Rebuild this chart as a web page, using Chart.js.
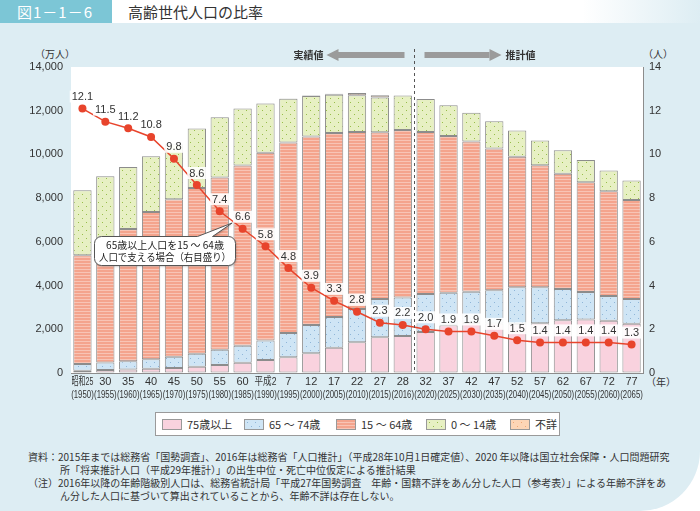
<!DOCTYPE html>
<html lang="ja">
<head>
<meta charset="utf-8">
<title>高齢世代人口の比率</title>
<script src="https://cdn.jsdelivr.net/npm/chart.js@4.4.1/dist/chart.umd.min.js"></script>
<style>
  html, body { margin: 0; padding: 0; }
  body {
    width: 700px; height: 511px; position: relative; overflow: hidden;
    background: #fff; color: #333;
    font-family: "Noto Sans CJK JP", sans-serif;
  }
  #panel {
    position: absolute; left: 0; top: 23px; width: 700px; height: 488px;
    background: #ddedf3; border-bottom-right-radius: 60px;
  }
  #hdr {
    position: absolute; left: 112px; top: 0; width: 588px; height: 23px;
    background: linear-gradient(to right, #fff 0%, #fff 80%, #ddedf3 100%);
  }
  #fig-no {
    position: absolute; left: 0; top: 0; width: 112px; height: 23px;
    background: #7cc6d6; color: #fff; font-size: 15px; line-height: 23px;
    text-indent: 17px; letter-spacing: 1px;
  }
  #title {
    position: absolute; left: 128px; top: 0; height: 23px; line-height: 24px;
    font-size: 15px; color: #333;
  }
  #chart { position: absolute; left: 0; top: 0; }
  .unit { position: absolute; font-size: 10px; color: #333; }
  #legend {
    position: absolute; left: 155px; top: 412px; width: 405px; height: 24px;
    box-sizing: border-box; background: #fff; border: 1px solid #9a9a9a;
  }
  .item { position: absolute; top: 0; height: 22px; display: flex; align-items: center; font-size: 11px; white-space: nowrap; }
  .item canvas { border: 1px solid #999; margin-right: 5px; }
  .note { position: absolute; font-size: 10px; white-space: nowrap; color: #333; }
</style>
</head>
<body>
<div id="panel"></div>
<div id="hdr"></div>
<div id="fig-no">図1－1－6</div>
<div id="title">高齢世代人口の比率</div>

<div class="unit" style="left:35px; top:46px;">（万人）</div>
<div class="unit" style="left:643px; top:46px;">（人）</div>
<div class="unit" style="left:646px; top:374px;">（年）</div>

<canvas id="chart" width="700" height="405"></canvas>

<div id="legend"></div>

<div class="note" style="left:28px; top:449px;">資料：2015年までは総務省「国勢調査」、2016年は総務省「人口推計」（平成28年10月1日確定値）、2020 年以降は国立社会保障・人口問題研究</div>
<div class="note" style="left:60px; top:462px;">所「将来推計人口（平成29年推計）」の出生中位・死亡中位仮定による推計結果</div>
<div class="note" style="left:28px; top:475px;">（注）2016年以降の年齢階級別人口は、総務省統計局「平成27年国勢調査　年齢・国籍不詳をあん分した人口（参考表）」による年齢不詳をあ</div>
<div class="note" style="left:60px; top:488px;">ん分した人口に基づいて算出されていることから、年齢不詳は存在しない。</div>

<script>
// 元号 / 西暦 の2段ラベル
const eraLabels = ["昭和25", "30", "35", "40", "45", "50", "55", "60", "平成2", "7", "12", "17", "22", "27", "28",
  "32", "37", "42", "47", "52", "57", "62", "67", "72", "77"];
const yearLabels = ["(1950)", "(1955)", "(1960)", "(1965)", "(1970)", "(1975)", "(1980)", "(1985)", "(1990)", "(1995)",
  "(2000)", "(2005)", "(2010)", "(2015)", "(2016)", "(2020)", "(2025)", "(2030)", "(2035)", "(2040)",
  "(2045)", "(2050)", "(2055)", "(2060)", "(2065)"];

// 人口（万人）
const age75over = [107, 138, 163, 190, 224, 284, 366, 471, 597, 717, 900, 1160, 1407, 1632, 1691,
  1872, 2180, 2288, 2260, 2239, 2277, 2417, 2446, 2387, 2248];
const age65to74 = [309, 338, 376, 434, 516, 602, 699, 776, 892, 1109, 1301, 1407, 1517, 1752, 1768,
  1747, 1497, 1428, 1522, 1681, 1643, 1424, 1258, 1133, 1133];
const age15to64 = [4966, 5517, 6047, 6744, 7212, 7581, 7883, 8251, 8590, 8716, 8622, 8409, 8103, 7629, 7656,
  7406, 7170, 6875, 6494, 5978, 5584, 5275, 5028, 4793, 4529];
const age0to14 = [2979, 3012, 2843, 2553, 2515, 2722, 2751, 2603, 2249, 2001, 1847, 1752, 1680, 1589, 1578,
  1507, 1407, 1321, 1246, 1194, 1138, 1077, 1012, 951, 898];
const ageUnknown = [null, null, null, null, null, null, null, null, 15, 13, 23, 49, 98, 106, null,
  null, null, null, null, null, null, null, null, null, null];

// 65歳以上1人を支える15～64歳の人数（右目盛り）
const supportRatio = [12.1, 11.5, 11.2, 10.8, 9.8, 8.6, 7.4, 6.6, 5.8, 4.8, 3.9, 3.3, 2.8, 2.3, 2.2,
  2.0, 1.9, 1.9, 1.7, 1.5, 1.4, 1.4, 1.4, 1.4, 1.3];

const leftTicks = { min: 0, max: 14000, step: 2000 };
const rightTicks = { min: 0, max: 14, step: 2 };
const firstEstimateIndex = 15;

function makePattern(size, bg, paint) {
  const c = document.createElement("canvas");
  c.width = size;
  c.height = size;
  const g = c.getContext("2d");
  g.fillStyle = bg;
  g.fillRect(0, 0, size, size);
  paint(g);
  return document.getElementById("chart").getContext("2d").createPattern(c, "repeat");
}

function dots(color) {
  return (g) => {
    g.fillStyle = color;
    g.fillRect(2, 2, 1, 1);
    g.fillRect(6, 6, 1, 1);
  };
}

const fills = {
  a75: makePattern(8, "#f9d2de", () => {}),
  a65: makePattern(8, "#cfe5f5", dots("#8fb6d8")),
  a15: makePattern(3, "#f4a48d", (g) => { g.fillStyle = "#f8c4b5"; g.fillRect(0, 2, 3, 1); }),
  a0: makePattern(8, "#e7f0c3", dots("#98bd4a")),
  unk: makePattern(8, "#fcd5b6", dots("#eea774"))
};

const legendItems = [
  { label: "75歳以上", fill: fills.a75, x: 6 },
  { label: "65 ～ 74歳", fill: fills.a65, x: 88 },
  { label: "15 ～ 64歳", fill: fills.a15, x: 180 },
  { label: "0 ～ 14歳", fill: fills.a0, x: 270 },
  { label: "不詳", fill: fills.unk, x: 354 }
];

const legendEl = document.getElementById("legend");
legendItems.forEach((item) => {
  const div = document.createElement("div");
  div.className = "item";
  div.style.left = `${item.x}px`;
  const sw = document.createElement("canvas");
  sw.width = 18;
  sw.height = 9;
  const g = sw.getContext("2d");
  g.fillStyle = item.fill;
  g.fillRect(0, 0, 18, 9);
  div.appendChild(sw);
  div.appendChild(document.createTextNode(item.label));
  legendEl.appendChild(div);
});

function barSet(label, data, fill) {
  return {
    type: "bar",
    label,
    data,
    backgroundColor: fill,
    borderColor: "#8c8c8c",
    borderWidth: 1,
    borderSkipped: false,
    barPercentage: 0.8,
    categoryPercentage: 1.0,
    stack: "pop",
    yAxisID: "y",
    order: 1
  };
}

const overlay = {
  id: "overlay",
  beforeDatasetsDraw(chart) {
    const { ctx, chartArea } = chart;
    ctx.save();
    ctx.fillStyle = "#fff";
    ctx.fillRect(chartArea.left, chartArea.top, chartArea.right - chartArea.left, chartArea.bottom - chartArea.top);
    ctx.restore();
  },
  afterDraw(chart) {
    // x軸の2段ラベル（幅に合わせて横方向を詰める）
    const { ctx, chartArea, scales } = chart;
    const x = scales.x;
    const slot = x.getPixelForValue(1) - x.getPixelForValue(0);
    ctx.save();
    ctx.fillStyle = "#333";
    ctx.textAlign = "center";
    ctx.textBaseline = "middle";
    ctx.font = "11px 'Liberation Sans', 'Noto Sans CJK JP'";
    eraLabels.forEach((era, i) => {
      const cx = x.getPixelForValue(i);
      ctx.fillText(era, cx, chartArea.bottom + 8.5, slot - 1);
      ctx.fillText(yearLabels[i], cx, chartArea.bottom + 21.5, slot - 0.3);
    });
    ctx.restore();
  },
  afterDatasetsDraw(chart) {
    const { ctx, chartArea, scales } = chart;
    const x = scales.x;
    const dashX = Math.round((x.getPixelForValue(firstEstimateIndex - 1) + x.getPixelForValue(firstEstimateIndex)) / 2) + 0.5;

    ctx.save();
    // 実績値／推計値の境界
    ctx.strokeStyle = "#555";
    ctx.lineWidth = 1;
    ctx.setLineDash([3, 3]);
    ctx.beginPath();
    ctx.moveTo(dashX, 49);
    ctx.lineTo(dashX, chartArea.bottom);
    ctx.stroke();
    ctx.setLineDash([]);

    // 矢印
    const ay = 55;
    ctx.fillStyle = "#9b9b9b";
    ctx.fillRect(dashX - 77, ay - 3, 67, 6);
    ctx.beginPath();
    ctx.moveTo(dashX - 88, ay);
    ctx.lineTo(dashX - 76, ay - 6);
    ctx.lineTo(dashX - 76, ay + 6);
    ctx.closePath();
    ctx.fill();
    ctx.fillRect(dashX + 10, ay - 3, 65, 6);
    ctx.beginPath();
    ctx.moveTo(dashX + 87, ay);
    ctx.lineTo(dashX + 75, ay - 6);
    ctx.lineTo(dashX + 75, ay + 6);
    ctx.closePath();
    ctx.fill();

    ctx.fillStyle = "#333";
    ctx.font = "bold 10px 'Noto Sans CJK JP'";
    ctx.textBaseline = "middle";
    ctx.textAlign = "right";
    ctx.fillText("実績値", dashX - 91, ay);
    ctx.textAlign = "left";
    ctx.fillText("推計値", dashX + 91, ay);

    // 数値ラベル
    const meta = chart.getDatasetMeta(chart.data.datasets.length - 1);
    ctx.font = "11px 'Liberation Sans'";
    ctx.textAlign = "center";
    meta.data.forEach((pt, i) => {
      const text = supportRatio[i].toFixed(1);
      const w = ctx.measureText(text).width;
      const ly = pt.y - 12;
      ctx.fillStyle = "rgba(255,255,255,0.9)";
      ctx.fillRect(pt.x - w / 2 - 2, ly - 6, w + 4, 12);
      ctx.fillStyle = "#333";
      ctx.fillText(text, pt.x, ly + 0.5);
    });

    // 吹き出し
    const p1 = meta.data[6];
    const p2 = meta.data[7];
    const tipX = (p1.x + p2.x) / 2 + 1;
    const tipY = (p1.y + p2.y) / 2 + 3;
    const bx = 94.5, by = 236.5, bw = 141, bh = 29, r = 7;
    ctx.beginPath();
    ctx.moveTo(bx + r, by);
    ctx.lineTo(bx + 103, by);
    ctx.lineTo(tipX, tipY);
    ctx.lineTo(bx + 118, by);
    ctx.lineTo(bx + bw - r, by);
    ctx.arcTo(bx + bw, by, bx + bw, by + r, r);
    ctx.lineTo(bx + bw, by + bh - r);
    ctx.arcTo(bx + bw, by + bh, bx + bw - r, by + bh, r);
    ctx.lineTo(bx + r, by + bh);
    ctx.arcTo(bx, by + bh, bx, by + bh - r, r);
    ctx.lineTo(bx, by + r);
    ctx.arcTo(bx, by, bx + r, by, r);
    ctx.closePath();
    ctx.shadowColor = "rgba(0,0,0,0.25)";
    ctx.shadowOffsetX = 1;
    ctx.shadowOffsetY = 1;
    ctx.shadowBlur = 2;
    ctx.fillStyle = "#fff";
    ctx.fill();
    ctx.shadowColor = "transparent";
    ctx.strokeStyle = "#555";
    ctx.stroke();
    ctx.fillStyle = "#222";
    ctx.font = "10px 'Noto Sans CJK JP'";
    ctx.textAlign = "center";
    ctx.fillText("65歳以上人口を15 ～ 64歳", bx + bw / 2, 245.5, 132);
    ctx.fillText("人口で支える場合（右目盛り）", bx + bw / 2, 257.5, 132);
    ctx.restore();
  }
};

new Chart(document.getElementById("chart"), {
  data: {
    labels: eraLabels.map((era, i) => `${era} ${yearLabels[i]}`),
    datasets: [
      barSet("75歳以上", age75over, fills.a75),
      barSet("65～74歳", age65to74, fills.a65),
      barSet("15～64歳", age15to64, fills.a15),
      barSet("0～14歳", age0to14, fills.a0),
      barSet("不詳", ageUnknown, fills.unk),
      {
        type: "line",
        label: "65歳以上人口を15～64歳人口で支える場合",
        data: supportRatio,
        yAxisID: "y1",
        borderColor: "#e8442c",
        backgroundColor: "#e8442c",
        borderWidth: 1.5,
        pointRadius: 4,
        pointBorderWidth: 0,
        tension: 0,
        order: 0
      }
    ]
  },
  options: {
    responsive: false,
    animation: false,
    layout: { padding: { top: 67, left: 0, right: 0, bottom: 0 } },
    plugins: {
      legend: { display: false },
      tooltip: { enabled: false }
    },
    scales: {
      x: {
        stacked: true,
        grid: { display: false },
        border: { display: true, color: "#8c8c8c" },
        ticks: { display: false },
        afterFit(scale) { scale.height = 32; }
      },
      y: {
        stacked: true,
        position: "left",
        min: leftTicks.min,
        max: leftTicks.max,
        grid: { color: "#8f8f8f", drawTicks: false },
        border: { color: "#8c8c8c" },
        ticks: {
          stepSize: leftTicks.step,
          padding: 8,
          color: "#333",
          font: { family: "'Liberation Sans'", size: 11 },
          callback: (v) => v.toLocaleString("en-US")
        },
        afterFit(scale) { scale.width = 71; }
      },
      y1: {
        position: "right",
        min: rightTicks.min,
        max: rightTicks.max,
        grid: { drawOnChartArea: false, drawTicks: false },
        border: { color: "#8c8c8c" },
        ticks: {
          stepSize: rightTicks.step,
          padding: 6,
          color: "#333",
          font: { family: "'Liberation Sans'", size: 11 }
        },
        afterFit(scale) { scale.width = 57; }
      }
    }
  },
  plugins: [overlay]
});
</script>
</body>
</html>
